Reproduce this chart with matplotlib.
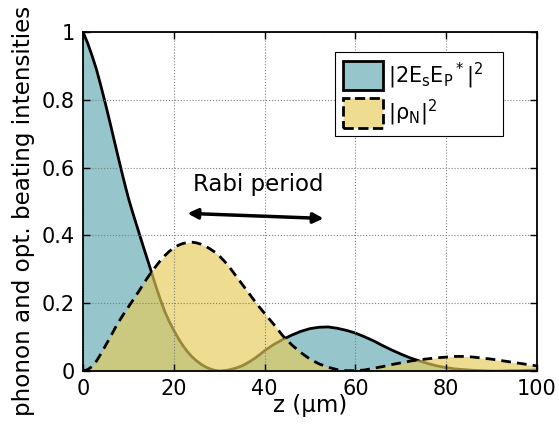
import matplotlib
matplotlib.use("Agg")
import matplotlib.pyplot as plt
import matplotlib.patches as mpatches

# ── Data (z in µm) ────────────────────────────────────────────────────────────
z_um = [0, 1, 2, 3, 4, 5, 6, 7, 8, 9,
        10, 11, 12, 13, 14, 15, 16, 17, 18, 19,
        20, 21, 22, 23, 24, 25, 26, 27, 28, 29,
        30, 31, 32, 33, 34, 35, 36, 37, 38, 39,
        40, 42, 44, 46, 48, 50, 52, 54, 56, 58,
        60, 62, 64, 66, 68, 70, 72, 74, 76, 78,
        80, 82, 84, 86, 88, 90, 92, 94, 96, 98, 100]

# |2 Es Ep*|^2  (optical beating)
beat = [1.0, 0.968, 0.93, 0.888, 0.838, 0.785, 0.73, 0.673, 0.617, 0.562,
        0.51, 0.465, 0.422, 0.379, 0.337, 0.295, 0.252, 0.212, 0.176, 0.146,
        0.12, 0.096, 0.075, 0.057, 0.042, 0.03, 0.02, 0.012, 0.006, 0.002,
        0.0, 0.001, 0.003, 0.006, 0.010, 0.015, 0.022, 0.030, 0.039, 0.049,
        0.06, 0.078, 0.093, 0.106, 0.117, 0.125, 0.129, 0.13, 0.126, 0.120,
        0.112, 0.101, 0.089, 0.075, 0.062, 0.05, 0.039, 0.03, 0.022, 0.015,
        0.01, 0.006, 0.004, 0.002, 0.001, 0.0, 0.0, 0.001, 0.001, 0.002, 0.003]

# |rho_N|^2  (phonon)
phonon = [0.0, 0.004, 0.013, 0.03, 0.052, 0.076, 0.1, 0.125, 0.148, 0.169,
          0.189, 0.209, 0.229, 0.25, 0.271, 0.29, 0.308, 0.325, 0.34, 0.353,
          0.363, 0.371, 0.376, 0.379, 0.380, 0.378, 0.374, 0.368, 0.36, 0.351,
          0.34, 0.326, 0.311, 0.293, 0.275, 0.257, 0.239, 0.221, 0.203, 0.186,
          0.17, 0.138, 0.104, 0.077, 0.054, 0.035, 0.021, 0.011, 0.004, 0.001,
          0.001, 0.003, 0.008, 0.013, 0.019, 0.024, 0.029, 0.033, 0.036, 0.039,
          0.041, 0.043, 0.043, 0.041, 0.038, 0.035, 0.031, 0.027, 0.023, 0.019, 0.015]

x_ticks = [0, 20, 40, 60, 80, 100]
x_ticklabels = ["0", "20", "40", "60", "80", "100"]
y_ticks = [0, 0.2, 0.4, 0.6, 0.8, 1.0]
y_ticklabels = ["0", "0.2", "0.4", "0.6", "0.8", "1"]

rabi_start = (23, 0.465)
rabi_end = (53, 0.45)

TEAL = "#96c5cb"
YELLOW = "#e6cc5b"
YELLOW_ALPHA = 0.67

fig = plt.figure(figsize=(5.59, 4.29), dpi=100)
ax = fig.add_axes([0.1485, 0.1352, 0.8121, 0.7902])

ax.fill_between(z_um, beat, 0, color=TEAL, lw=0, zorder=1)
ax.plot(z_um, beat, color="black", lw=2, zorder=1.5)
ax.fill_between(z_um, phonon, 0, color=YELLOW, alpha=YELLOW_ALPHA, lw=0, zorder=2)
ax.plot(z_um, phonon, color="black", lw=2, ls=(0, (3.5, 2.2)), zorder=3)

ax.set_xlim(0, 100)
ax.set_ylim(0, 1)
ax.set_xticks(x_ticks)
ax.set_xticklabels(x_ticklabels)
ax.set_yticks(y_ticks)
ax.set_yticklabels(y_ticklabels)
ax.tick_params(direction="in", top=True, right=True, length=5, width=1,
               labelsize=15, pad=6)
ax.grid(True, color="gray", ls=":", lw=0.8)
ax.set_axisbelow(False)
for sp in ax.spines.values():
    sp.set_linewidth(1.3)
    sp.set_zorder(4)

ax.set_xlabel("z (µm)", fontsize=16.5, labelpad=-4)
ax.set_ylabel("phonon and opt. beating intensities", fontsize=16.6)
ax.yaxis.set_label_coords(-0.106, 0.473)

ax.annotate("", xy=rabi_end, xytext=rabi_start,
            arrowprops=dict(arrowstyle="<|-|>,head_length=0.6,head_width=0.3",
                            color="black", lw=2.5, shrinkA=0, shrinkB=0),
            zorder=5)
ax.text(38.5, 0.55, "Rabi period", fontsize=16.5, ha="center", va="center")

handles = [
    mpatches.Patch(facecolor=TEAL, edgecolor="black", lw=2,
                   label=r"$\mathrm{|2E_sE_P{}^*|^2}$"),
    mpatches.Patch(facecolor="#eedd91", edgecolor="black", lw=2, ls="--",
                   label=r"$\mathrm{|ρ_N|^2}$"),
]
leg = ax.legend(handles=handles, loc="upper left",
                bbox_to_anchor=(0.555, 0.681, 0.37, 0.26), mode="expand",
                borderaxespad=0, fontsize=15, fancybox=False, framealpha=1,
                edgecolor="black", handlelength=1.9, handleheight=1.8,
                handletextpad=0.25, borderpad=0.4, labelspacing=0.35)
leg.get_frame().set_linewidth(0.8)

fig.savefig("out.png", dpi=100)
